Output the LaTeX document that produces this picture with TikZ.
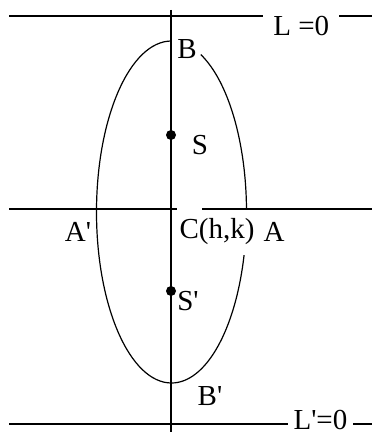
\documentclass[tikz,border=0pt]{standalone}
\usepackage{fontspec}
\setmainfont{Liberation Serif}
\usetikzlibrary{calc}
\begin{document}
\begin{tikzpicture}[x=0.5pt,y=0.5pt,line width=0.75pt]
  \tikzstyle{lbl}=[inner sep=0pt,font=\fontsize{14.5}{16}\selectfont]
  \tikzstyle{cut}=[fill=white,inner sep=5pt,font=\fontsize{14.5}{16}\selectfont]
  \useasboundingbox (0,0) rectangle (372,435);
  % lines
  \coordinate (tl) at (9,419);   \coordinate (tr) at (372,419);
  \coordinate (ml) at (9,226);   \coordinate (mr) at (372,226);
  \coordinate (bl) at (9,11);    \coordinate (br) at (372,11);
  \coordinate (vt) at (171,425); \coordinate (vb) at (171,3);
  \coordinate (c) at (171.5,223);
  \draw (tl) -- (tr) node[cut,pos=0.805,yshift=-5]{L =0};
  \draw (bl) -- (br) node[cut,pos=0.858,yshift=2,inner xsep=3pt]{L\textquotesingle=0};
  \draw (ml) -- (177,226);
  \draw (202,226) -- (mr);
  \draw (vt) -- (vb);
  % ellipse, with the gaps
  \draw[line width=0.6pt] ($(c)+(90:75 and 171)$) arc[start angle=90,end angle=345.4,x radius=75,y radius=171];
  \draw[line width=0.6pt] ($(c)+(1:75 and 171)$) arc[start angle=1,end angle=67,x radius=75,y radius=171];
  % foci
  \fill (171,300) coordinate (S) circle (2.5pt);
  \fill (171,144) coordinate (S2) circle (2.5pt);
  \node[lbl] (b) at (187,386) {B};
  \node[lbl] (s) at (200,290) {S};
  \node[lbl] (a2) at (78,203) {A\textquotesingle};
  \node[lbl] (ctr) at (217,203) {C(h,k)};
  \node[lbl] (a) at (274,203) {A};
  \node[lbl] (s2) at (188,134) {S\textquotesingle};
  \node[lbl] (b2) at (210,39) {B\textquotesingle};
\end{tikzpicture}
\end{document}
